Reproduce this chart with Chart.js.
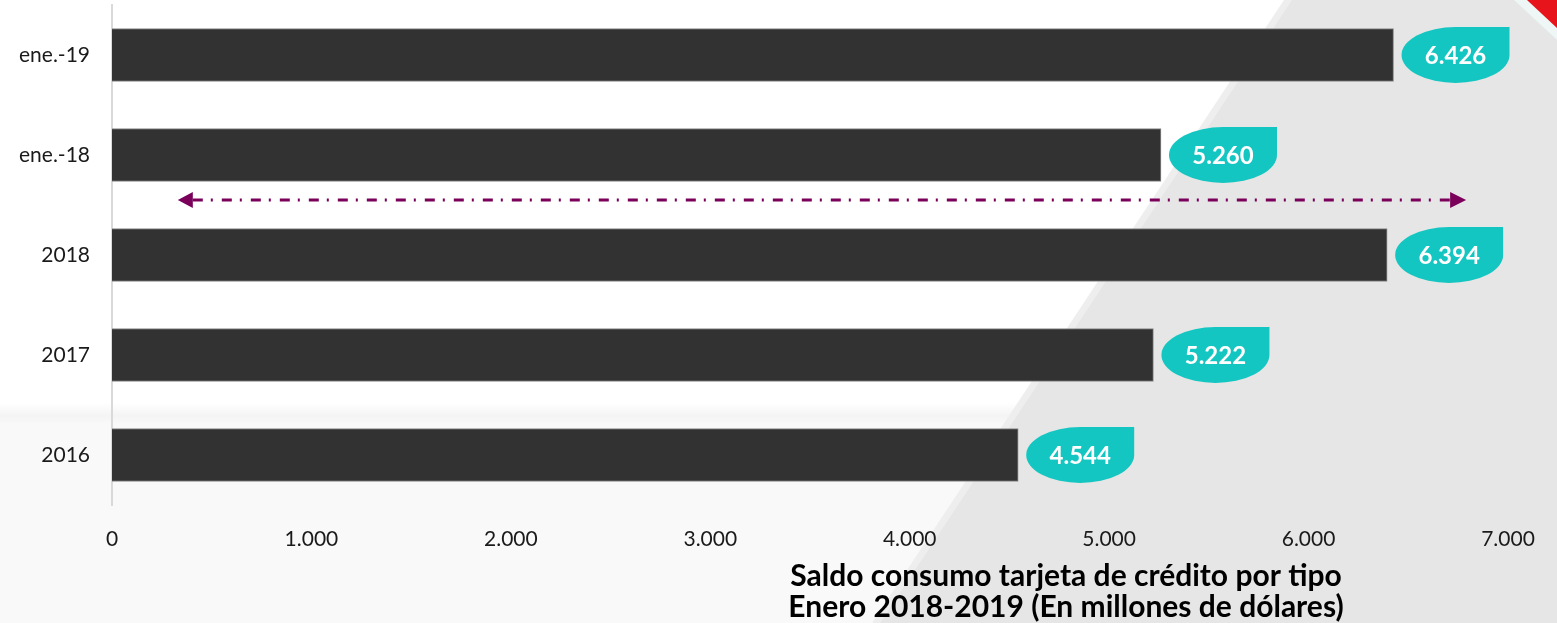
<!DOCTYPE html>
<html>
<head>
<meta charset="utf-8">
<script src="https://cdn.jsdelivr.net/npm/chart.js@4.4.1/dist/chart.umd.min.js"></script>
<style>
  html, body { margin: 0; padding: 0; background: #fff; }
  #wrap { width: 1557px; height: 623px; position: relative; }
</style>
</head>
<body>
<div id="wrap"><canvas id="chart"></canvas></div>
<script>
const categories = ['ene.-19', 'ene.-18', '2018', '2017', '2016'];
const saldo = [6426, 5260, 6394, 5222, 4544];
const xTicks = [0, 1000, 2000, 3000, 4000, 5000, 6000, 7000];
const titleLines = [
  'Saldo consumo tarjeta de crédito por tipo',
  'Enero 2018-2019 (En millones de dólares)'
];

const fmt = (n) => String(n).replace(/\B(?=(\d{3})+(?!\d))/g, '.');

// slide background: white, light band at the bottom, grey diagonal on the right
const background = {
  id: 'background',
  beforeDraw(chart) {
    const { ctx, width, height } = chart;
    ctx.save();
    ctx.fillStyle = '#ffffff';
    ctx.fillRect(0, 0, width, height);

    const g = ctx.createLinearGradient(0, 403, 0, 424);
    g.addColorStop(0, '#ffffff');
    g.addColorStop(0.6, '#f4f4f4');
    g.addColorStop(1, '#f9f9f9');
    ctx.fillStyle = g;
    ctx.fillRect(0, 403, width, height - 403);

    // soft fringe, then the grey diagonal
    ctx.beginPath();
    ctx.moveTo(1284, 0);
    ctx.lineTo(width, 0);
    ctx.lineTo(width, height);
    ctx.lineTo(872, height);
    ctx.closePath();
    ctx.fillStyle = '#eeeeee';
    ctx.fill();
    ctx.beginPath();
    ctx.moveTo(1292, 0);
    ctx.lineTo(width, 0);
    ctx.lineTo(width, height);
    ctx.lineTo(880, height);
    ctx.closePath();
    ctx.fillStyle = '#e6e6e6';
    ctx.fill();

    // light streak and red corner
    ctx.beginPath();
    ctx.moveTo(1514, 0);
    ctx.lineTo(1527, 0);
    ctx.lineTo(width, 28);
    ctx.lineTo(width, 40);
    ctx.closePath();
    ctx.fillStyle = '#eef6f6';
    ctx.fill();
    ctx.beginPath();
    ctx.moveTo(1527, 0);
    ctx.lineTo(width, 0);
    ctx.lineTo(width, 28);
    ctx.closePath();
    ctx.fillStyle = '#e8141c';
    ctx.fill();
    ctx.restore();
  }
};

// teal callouts with the values, the dash-dot arrow and the caption
const extras = {
  id: 'extras',
  afterDatasetsDraw(chart) {
    const { ctx } = chart;
    const meta = chart.getDatasetMeta(0);
    ctx.save();
    meta.data.forEach((bar, i) => {
      const w = 108, h = 56;
      const x1 = bar.x + 8;
      const cx = x1 + w / 2, cy = bar.y;
      ctx.beginPath();
      ctx.ellipse(cx, cy, w / 2, h / 2, 0, 0, Math.PI * 1.5);
      ctx.lineTo(x1 + w, cy - h / 2);
      ctx.closePath();
      ctx.fillStyle = '#14c6c1';
      ctx.fill();
      ctx.fillStyle = '#ffffff';
      ctx.font = 'bold 24px Lato';
      ctx.textAlign = 'center';
      ctx.textBaseline = 'middle';
      ctx.fillText(fmt(saldo[i]), cx, cy + 1);
    });

    const xs = chart.scales.x, ys = chart.scales.y;
    const y = ys.getPixelForValue(1.45);
    const a = xs.getPixelForValue(330), b = xs.getPixelForValue(6790);
    ctx.strokeStyle = '#7a005a';
    ctx.fillStyle = '#7a005a';
    ctx.lineWidth = 3;
    ctx.setLineDash([10, 8, 2, 9]);
    ctx.beginPath();
    ctx.moveTo(a + 15, y);
    ctx.lineTo(b - 16, y);
    ctx.stroke();
    ctx.setLineDash([]);
    ctx.beginPath();
    ctx.moveTo(a, y); ctx.lineTo(a + 15, y - 8); ctx.lineTo(a + 15, y + 8);
    ctx.closePath(); ctx.fill();
    ctx.beginPath();
    ctx.moveTo(b, y); ctx.lineTo(b - 16, y - 8); ctx.lineTo(b - 16, y + 8);
    ctx.closePath(); ctx.fill();
    ctx.restore();
  },
  afterDraw(chart) {
    const { ctx } = chart;
    ctx.save();
    ctx.fillStyle = '#000000';
    ctx.font = 'bold 30px Lato';
    ctx.textAlign = 'center';
    ctx.textBaseline = 'middle';
    ctx.fillText(titleLines[0], 1066, 576);
    ctx.fillText(titleLines[1], 1066, 607);
    ctx.restore();
  }
};

new Chart(document.getElementById('chart'), {
  type: 'bar',
  data: {
    labels: categories,
    datasets: [{
      data: saldo,
      backgroundColor: '#323232',
      borderColor: '#8a8a8a',
      borderWidth: 1,
      barThickness: 53
    }]
  },
  options: {
    indexAxis: 'y',
    responsive: true,
    maintainAspectRatio: false,
    animation: false,
    layout: { padding: { left: 0, top: 5, right: 49, bottom: 77 } },
    plugins: {
      legend: { display: false },
      tooltip: { enabled: false }
    },
    scales: {
      x: {
        min: 0,
        max: 7000,
        afterBuildTicks: (scale) => { scale.ticks = xTicks.map((v) => ({ value: v })); },
        afterFit: (scale) => { scale.height = 41; },
        grid: { display: false, drawTicks: false },
        border: { display: false },
        ticks: {
          padding: 22,
          color: '#1a1a1a',
          font: { family: 'Lato', size: 21 },
          callback: (v) => fmt(v)
        }
      },
      y: {
        afterFit: (scale) => {
          scale.width = 112;
          scale.paddingTop = 0;
          scale.paddingBottom = 0;
        },
        grid: { display: false, drawTicks: false },
        border: { display: true, color: '#d9d9d9', width: 2 },
        ticks: {
          padding: 22,
          color: '#1a1a1a',
          font: { family: 'Lato', size: 21 }
        }
      }
    }
  },
  plugins: [background, extras]
});
</script>
</body>
</html>
